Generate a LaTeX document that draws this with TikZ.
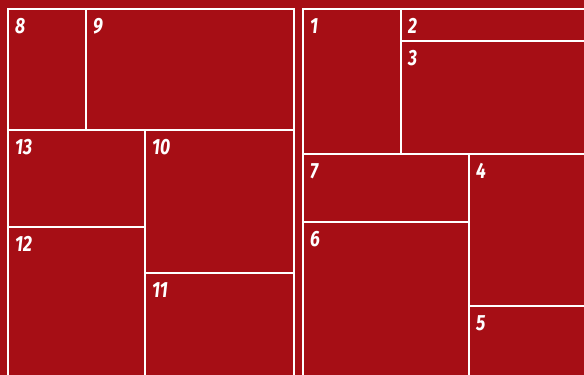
\documentclass[tikz,border=0pt]{standalone}
\usepackage{fontspec}
\newfontfamily\labfont[FakeStretch=0.8]{Fira Sans}
\definecolor{bg}{RGB}{166,14,21}
\begin{document}
\begin{tikzpicture}[x=1pt,y=-1pt,
  cell/.style={draw=white,line width=1.4pt},
  lab/.style={text=white,anchor=base west,inner sep=0pt,font=\labfont\bfseries\itshape\fontsize{22}{22}\selectfont}]
\fill[bg] (0,0) rectangle (584,375);
\useasboundingbox (0,0) rectangle (584,375);
\begin{scope}
\clip (0,0) rectangle (584,375);
% left block
\draw[cell] (8,9) rectangle (294,400);
\draw[cell] (86,9) -- (86,130);
\draw[cell] (8,130) -- (294,130);
\draw[cell] (145,130) -- (145,400);
\draw[cell] (8,227) -- (145,227);
\draw[cell] (145,273) -- (294,273);
% right block
\draw[cell] (303,9) rectangle (620,400);
\draw[cell] (401,9) -- (401,154);
\draw[cell] (401,41) -- (620,41);
\draw[cell] (303,154) -- (620,154);
\draw[cell] (469,154) -- (469,400);
\draw[cell] (303,222) -- (469,222);
\draw[cell] (469,306) -- (620,306);
\end{scope}
\node[lab] (l8) at (15,33) {8};
\node[lab] (l9) at (93,33) {9};
\node[lab] (l13) at (15,154) {13};
\node[lab] (l10) at (152,154) {10};
\node[lab] (l12) at (15,251) {12};
\node[lab] (l11) at (152,297) {11};
\node[lab] (l1) at (310,33) {1};
\node[lab] (l2) at (408,33) {2};
\node[lab] (l3) at (408,65) {3};
\node[lab] (l7) at (310,178) {7};
\node[lab] (l4) at (476,178) {4};
\node[lab] (l6) at (310,246) {6};
\node[lab] (l5) at (476,330) {5};
\end{tikzpicture}
\end{document}
